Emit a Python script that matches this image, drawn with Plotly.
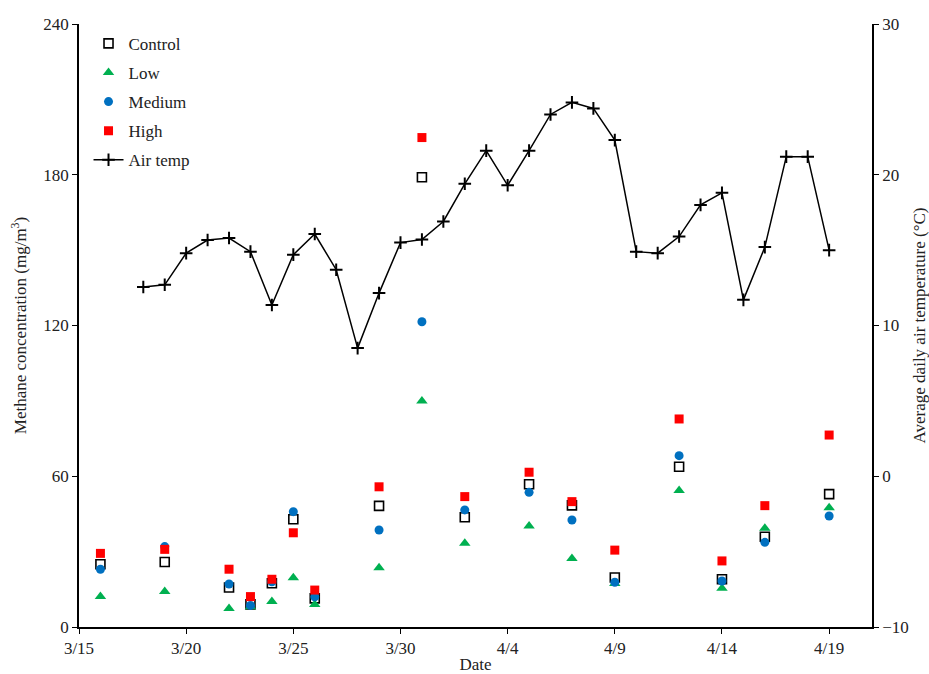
import plotly.graph_objects as go

# Sampling dates for methane concentration
sample_dates = ["2019-03-16", "2019-03-19", "2019-03-22", "2019-03-23", "2019-03-24",
                "2019-03-25", "2019-03-26", "2019-03-29", "2019-03-31", "2019-04-02",
                "2019-04-05", "2019-04-07", "2019-04-09", "2019-04-12", "2019-04-14",
                "2019-04-16", "2019-04-19"]
control = [25.0, 25.9, 15.7, 9.0, 17.4, 42.9, 11.4, 48.2, 179.0, 43.7, 56.8, 48.4, 19.7, 63.8, 19.0, 35.9, 52.9]
low = [12.1, 14.1, 7.4, 8.1, 10.1, 19.6, 9.0, 23.6, 90.0, 33.3, 40.2, 27.3, 17.3, 54.3, 15.4, 39.3, 47.5]
medium = [23.0, 32.0, 17.1, 8.6, 18.0, 45.9, 12.0, 38.6, 121.5, 46.6, 53.6, 42.6, 17.8, 68.2, 18.3, 33.7, 44.2]
high = [29.3, 30.9, 23.0, 12.1, 19.0, 37.5, 14.7, 55.8, 194.8, 51.9, 61.6, 49.9, 30.6, 82.8, 26.3, 48.3, 76.4]

# Daily air temperature
temp_dates = ["2019-03-18", "2019-03-19", "2019-03-20", "2019-03-21", "2019-03-22", "2019-03-23",
              "2019-03-24", "2019-03-25", "2019-03-26", "2019-03-27", "2019-03-28", "2019-03-29",
              "2019-03-30", "2019-03-31", "2019-04-01", "2019-04-02", "2019-04-03", "2019-04-04",
              "2019-04-05", "2019-04-06", "2019-04-07", "2019-04-08", "2019-04-09", "2019-04-10",
              "2019-04-11", "2019-04-12", "2019-04-13", "2019-04-14", "2019-04-15", "2019-04-16",
              "2019-04-17", "2019-04-18", "2019-04-19"]
air_temp = [12.55, 12.7, 14.8, 15.67, 15.8, 14.9, 11.36, 14.7, 16.07, 13.7, 8.5, 12.15,
            15.5, 15.7, 16.9, 19.4, 21.6, 19.3, 21.6, 24.0, 24.8, 24.4, 22.3, 14.9,
            14.8, 15.9, 18.0, 18.8, 11.7, 15.2, 21.2, 21.2, 15.0]

tick_dates = ["2019-03-15", "2019-03-20", "2019-03-25", "2019-03-30", "2019-04-04",
              "2019-04-09", "2019-04-14", "2019-04-19"]
tick_labels = ["3/15", "3/20", "3/25", "3/30", "4/4", "4/9", "4/14", "4/19"]

FONT = "Liberation Serif"
TXT = "#222"

fig = go.Figure()
fig.add_trace(go.Scatter(x=sample_dates, y=control, mode="markers", name="Control", legendgroup="a",
                         marker=dict(symbol="square-open", size=9, color="black", line=dict(width=1.6))))
fig.add_trace(go.Scatter(x=sample_dates, y=low, mode="markers", name="Low", legendgroup="b",
                         marker=dict(symbol="triangle-up", size=10, color="#00B050")))
fig.add_trace(go.Scatter(x=sample_dates, y=medium, mode="markers", name="Medium", legendgroup="c",
                         marker=dict(symbol="circle", size=9, color="#0070C0")))
fig.add_trace(go.Scatter(x=sample_dates, y=high, mode="markers", name="High", legendgroup="d",
                         marker=dict(symbol="square", size=9, color="#FF0000")))
fig.add_trace(go.Scatter(x=temp_dates, y=air_temp, mode="lines+markers", name="Air temp", legendgroup="e",
                         yaxis="y2", line=dict(color="black", width=1.5),
                         marker=dict(symbol="cross-thin", size=9, color="black",
                                     line=dict(width=2, color="black"))))

fig.update_layout(
    width=929, height=674,
    margin=dict(l=79, r=57, t=24, b=47),
    paper_bgcolor="white", plot_bgcolor="white",
    font=dict(family=FONT, size=17, color=TXT),
    showlegend=True,
    legend=dict(x=0.012, y=0.997, xanchor="left", yanchor="top", bgcolor="rgba(0,0,0,0)",
                font=dict(family=FONT, size=17, color=TXT), tracegroupgap=4,
                traceorder="grouped"),
    xaxis=dict(type="date", range=["2019-03-15", "2019-04-21"], tickvals=tick_dates,
               ticktext=tick_labels, showgrid=False, zeroline=False, showline=True,
               linecolor="black", linewidth=1.5, ticks="outside", ticklen=5, tickcolor="black",
               automargin=False,
               tickfont=dict(family=FONT, size=17, color=TXT),
               title=dict(text="Date", font=dict(family=FONT, size=17), standoff=7)),
    yaxis=dict(range=[0, 240], tickvals=[0, 60, 120, 180, 240], showgrid=False, zeroline=False,
               showline=True, linecolor="black", linewidth=1.5, ticks="outside", ticklen=5,
               tickcolor="black", automargin=False,
               tickfont=dict(family=FONT, size=17, color=TXT),
               title=dict(text="Methane concentration (mg/m<sup>3</sup>)",
                          font=dict(family=FONT, size=17), standoff=12)),
    yaxis2=dict(range=[-10, 30], tickvals=[-10, 0, 10, 20, 30], overlaying="y", side="right",
                showgrid=False, zeroline=False, showline=True, linecolor="black", linewidth=1.5,
                ticks="outside", ticklen=5, tickcolor="black", automargin=False,
                tickfont=dict(family=FONT, size=17, color=TXT),
                title=dict(text="Average daily air temperature (°C)",
                           font=dict(family=FONT, size=17), standoff=12)),
)

fig.write_html("out.html")
